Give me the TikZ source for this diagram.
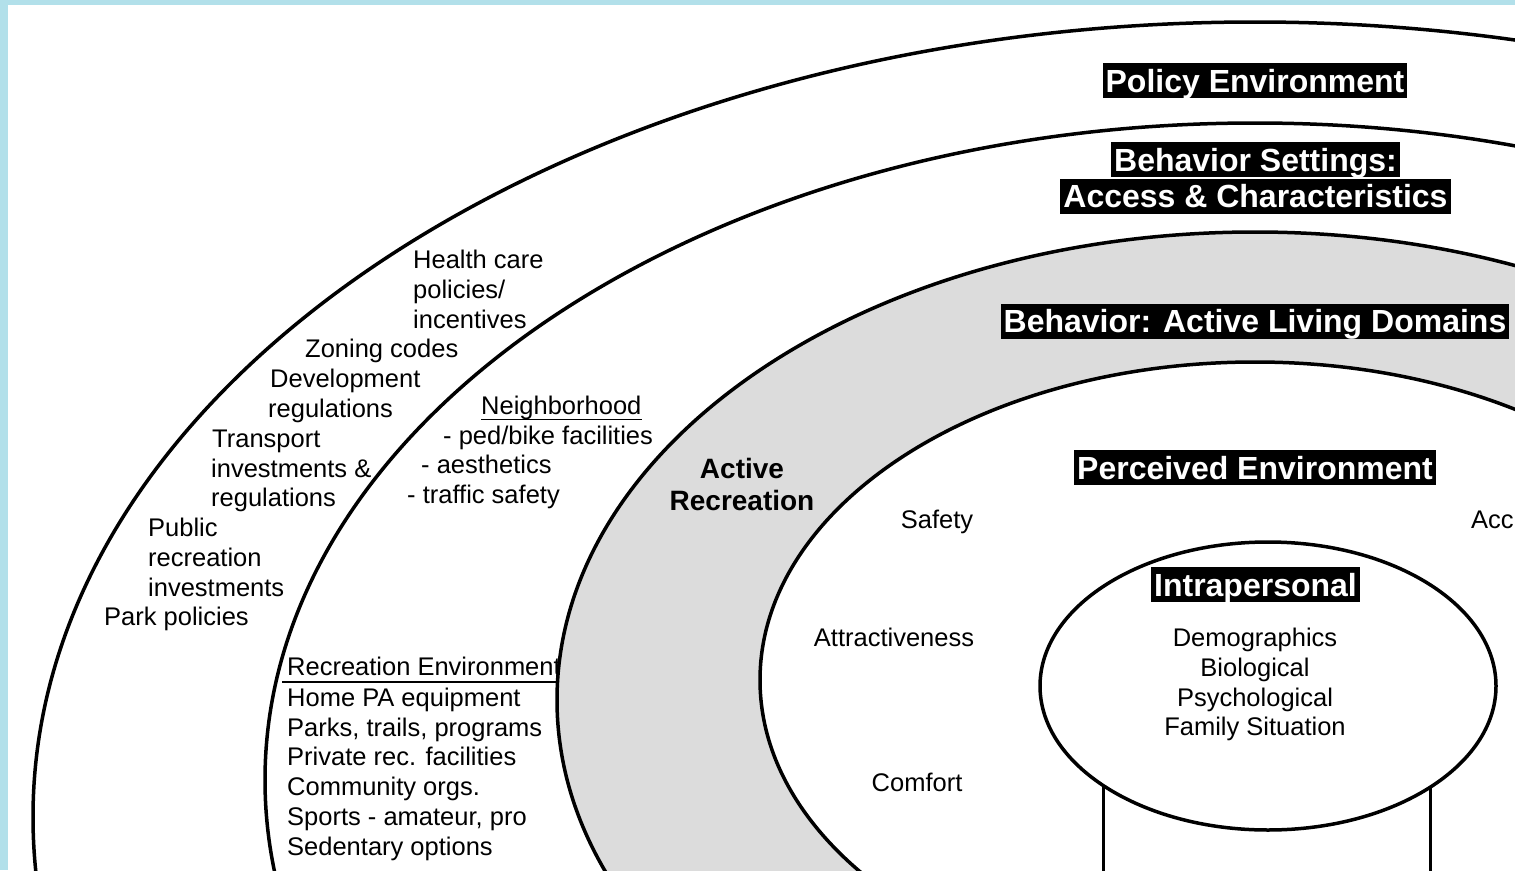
\documentclass[tikz,border=0pt]{standalone}
\usepackage{fontspec}
\setmainfont{Liberation Sans}
\definecolor{bgblue}{RGB}{178,224,234}
\definecolor{ringgray}{RGB}{220,220,220}
\begin{document}
\begin{tikzpicture}[x=1pt,y=-1pt,
  ring/.style={line width=3.5pt},
  title/.style={fill=black,text=white,font=\fontsize{32}{36}\selectfont\bfseries,inner xsep=3pt,inner ysep=0pt,text height=29pt,text depth=6pt},
  lbl/.style={font=\fontsize{25.5}{30}\selectfont,inner sep=0pt,text height=20pt,text depth=5pt,anchor=west},
  clbl/.style={lbl,anchor=center},
  blbl/.style={font=\fontsize{28}{32}\selectfont\bfseries,inner sep=0pt,text height=21pt,text depth=5pt},
  vline/.style={line width=3pt},
]
\useasboundingbox (0,0) rectangle (1515,870);
\clip (0,0) rectangle (1515,870);
\fill[bgblue] (0,0) rectangle (1515,870);
\fill[white] (8,5) rectangle (1515,870);

% outer rings
\draw[ring] (1255,817) ellipse [x radius=1222, y radius=795];
\draw[ring] (1255,780) ellipse [x radius=990, y radius=657];

% policy environment texts
\foreach \x/\y/\t [count=\i] in {
  413/261/{Health care}, 413/291/{policies/}, 413/321/{incentives},
  305/350/{Zoning codes}, 270/380/{Development}, 268/410/{regulations},
  212/440/{Transport}, 211/470/{investments \&}, 211/499/{regulations},
  148/529/{Public}, 148/559/{recreation}, 148/589/{investments},
  104/618/{Park policies}}
  \node[lbl] (p\i) at (\x,\y) {\t};

% neighborhood
\node[lbl] (nb) at (481,407) {Neighborhood};
\draw[line width=1.5pt] (nb.south west) -- (nb.south east);
\foreach \x/\y/\t [count=\i] in {
  443/437/{- ped/bike facilities}, 421/466/{- aesthetics}, 407/496/{- traffic safety}}
  \node[lbl] (n\i) at (\x,\y) {\t};

% recreation environment
\node[lbl] (re) at (287,668) {Recreation Environment};
\coordinate (ul) at (282,682);
\coordinate (ur) at (600,682);
\draw[line width=2.5pt] (ul) -- (ur);
\foreach \y/\t [count=\i] in {
  699/{Home PA equipment}, 729/{Parks, trails, programs}, 758/{Private rec. facilities},
  788/{Community orgs.}, 818/{Sports - amateur, pro}, 848/{Sedentary options}}
  \node[lbl] (r\i) at (287,\y) {\t};

% behavior ring
\draw[ring,fill=ringgray] (1255,700) ellipse [x radius=698, y radius=468];
\node[blbl] (ar1) at (742,470) {Active};
\node[blbl] (ar2) at (742,502) {Recreation};

% perceived environment
\draw[ring,fill=white] (1255,680) ellipse [x radius=495, y radius=318];
\node[clbl] (saf) at (937,521) {Safety};
\node[clbl] (att) at (894,639) {Attractiveness};
\node[clbl] (com) at (917,784) {Comfort};
\node[lbl] (acc) at (1471,521) {Acc};

% intrapersonal
\coordinate (v1a) at (1103,700);
\coordinate (v1b) at (1103,880);
\coordinate (v2a) at (1430,700);
\coordinate (v2b) at (1430,880);
\draw[vline] (v1a) -- (v1b);
\draw[vline] (v2a) -- (v2b);
\draw[ring,fill=white] (1268,686) ellipse [x radius=228, y radius=144];
\foreach \y/\t [count=\i] in {639/{Demographics}, 669/{Biological}, 699/{Psychological}, 728/{Family Situation}}
  \node[clbl] (i\i) at (1255,\y) {\t};

% titles
\node[title] (tpol) at (1255,80.5) {Policy Environment};
\node[title] (tbs1) at (1255.5,159.5) {Behavior Settings:};
\node[title] (tbs2) at (1255.5,196) {Access \& Characteristics};
\node[title] (tbeh) at (1255,321) {Behavior: Active Living Domains};
\node[title] (tper) at (1255,467.5) {Perceived Environment};
\node[title] (tint) at (1255.5,584.5) {Intrapersonal};
\end{tikzpicture}
\end{document}
